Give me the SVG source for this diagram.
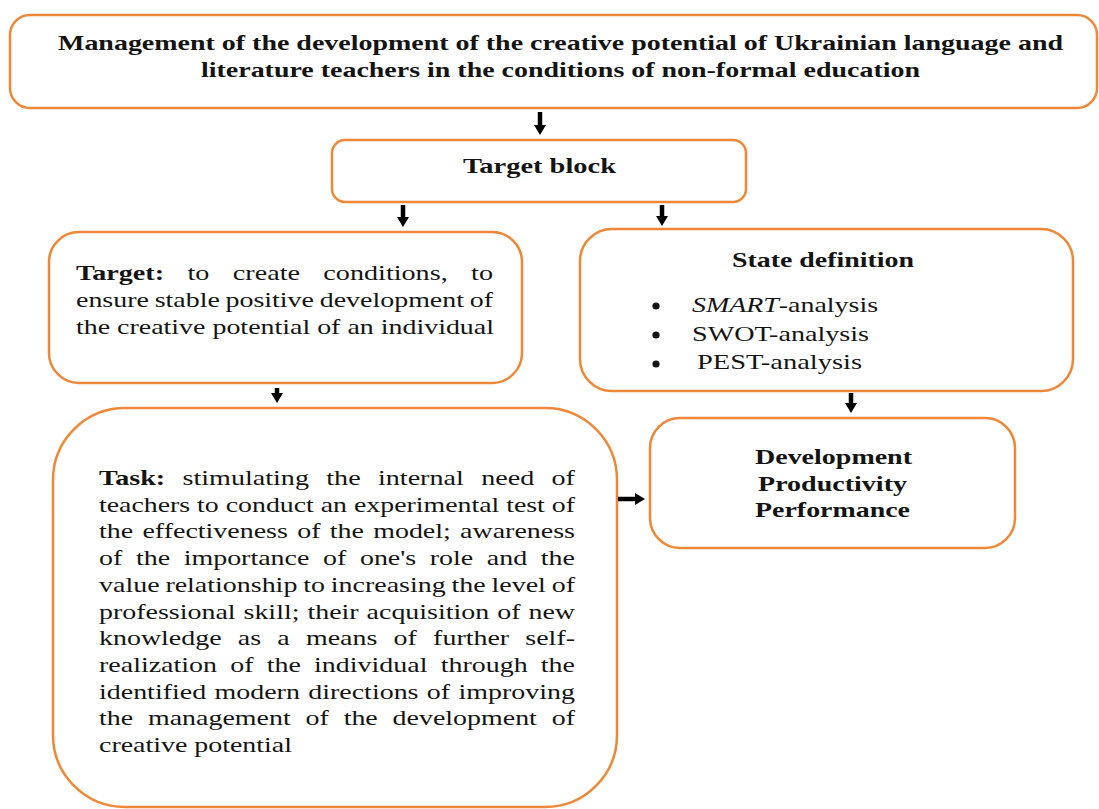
<svg xmlns="http://www.w3.org/2000/svg" width="1099" height="809" viewBox="0 0 1099 809">
<style>
.box{fill:#fff;stroke:#EE8838;stroke-width:2.5}
.t{font-family:"Liberation Serif","Times New Roman",serif;font-size:22px;fill:#141414}
.b{font-weight:bold}
.i{font-style:italic}
.arr{stroke:#000;stroke-width:4.5;fill:none}
.bul{fill:#141414}
</style>
<defs>
<marker id="ah" markerUnits="userSpaceOnUse" markerWidth="14" markerHeight="14" viewBox="0 0 14 14" refX="2" refY="7" orient="auto">
<path d="M0,1 L10,7 L0,13 Z" fill="#000"/>
</marker>
</defs>
<rect width="1099" height="809" fill="#fff"/>

<g id="node-main">
<rect class="box" x="10" y="15" width="1087" height="93" rx="20"/>
<text class="t b" x="58" y="50" textLength="1005" lengthAdjust="spacingAndGlyphs">Management of the development of the creative potential of Ukrainian language and</text>
<text class="t b" x="201" y="77" textLength="719" lengthAdjust="spacingAndGlyphs">literature teachers in the conditions of non-formal education</text>
</g>

<g id="node-target-block">
<rect class="box" x="332" y="140" width="414" height="62" rx="13"/>
<text class="t b" x="463" y="173" textLength="153" lengthAdjust="spacingAndGlyphs">Target block</text>
</g>

<g id="node-target">
<rect class="box" x="49" y="232" width="473" height="151" rx="30"/>
<text class="t" x="76" y="280" textLength="417" lengthAdjust="spacingAndGlyphs" style="word-spacing:12.8px"><tspan class="b">Target:</tspan> to create conditions, to</text>
<text class="t" x="76" y="307" textLength="417" lengthAdjust="spacingAndGlyphs" style="word-spacing:-1px">ensure stable positive development of</text>
<text class="t" x="76" y="334" textLength="418" lengthAdjust="spacingAndGlyphs">the creative potential of an individual</text>
</g>

<g id="node-state">
<rect class="box" x="580" y="229" width="493" height="162" rx="32"/>
<text class="t b" x="732" y="267" textLength="182" lengthAdjust="spacingAndGlyphs">State definition</text>
<circle class="bul" cx="656" cy="306" r="3.6"/>
<circle class="bul" cx="656" cy="335" r="3.6"/>
<circle class="bul" cx="656" cy="364" r="3.6"/>
<text class="t" x="692" y="312" textLength="186" lengthAdjust="spacingAndGlyphs"><tspan class="i">SMART</tspan>-analysis</text>
<text class="t" x="692" y="341" textLength="177" lengthAdjust="spacingAndGlyphs">SWOT-analysis</text>
<text class="t" x="697" y="369" textLength="165" lengthAdjust="spacingAndGlyphs">PEST-analysis</text>
</g>

<g id="node-task">
<rect class="box" x="53" y="408" width="564" height="399" rx="72"/>
<text class="t" x="99" y="485" textLength="476" lengthAdjust="spacingAndGlyphs" style="word-spacing:8.1px"><tspan class="b">Task:</tspan> stimulating the internal need of</text>
<text class="t" x="99" y="511.7" textLength="476" lengthAdjust="spacingAndGlyphs">teachers to conduct an experimental test of</text>
<text class="t" x="99" y="538.4" textLength="476" lengthAdjust="spacingAndGlyphs" style="word-spacing:1.8px">the effectiveness of the model; awareness</text>
<text class="t" x="99" y="565.1" textLength="476" lengthAdjust="spacingAndGlyphs" style="word-spacing:5.2px">of the importance of one's role and the</text>
<text class="t" x="99" y="591.8" textLength="476" lengthAdjust="spacingAndGlyphs" style="word-spacing:-0.9px">value relationship to increasing the level of</text>
<text class="t" x="99" y="618.5" textLength="476" lengthAdjust="spacingAndGlyphs" style="word-spacing:0.8px">professional skill; their acquisition of new</text>
<text class="t" x="99" y="645.2" textLength="476" lengthAdjust="spacingAndGlyphs" style="word-spacing:7.3px">knowledge as a means of further self-</text>
<text class="t" x="99" y="671.9" textLength="476" lengthAdjust="spacingAndGlyphs" style="word-spacing:4.9px">realization of the individual through the</text>
<text class="t" x="99" y="698.6" textLength="476" lengthAdjust="spacingAndGlyphs" style="word-spacing:1.1px">identified modern directions of improving</text>
<text class="t" x="99" y="725.3" textLength="476" lengthAdjust="spacingAndGlyphs" style="word-spacing:6.2px">the management of the development of</text>
<text class="t" x="99" y="752" textLength="193" lengthAdjust="spacingAndGlyphs">creative potential</text>
</g>

<g id="node-result">
<rect class="box" x="650" y="418" width="365" height="130" rx="30"/>
<text class="t b" x="755" y="464" textLength="157" lengthAdjust="spacingAndGlyphs">Development</text>
<text class="t b" x="758" y="491" textLength="149" lengthAdjust="spacingAndGlyphs">Productivity</text>
<text class="t b" x="755" y="517" textLength="155" lengthAdjust="spacingAndGlyphs">Performance</text>
</g>

<g id="connectors">
<line class="arr" x1="540" y1="112" x2="540" y2="127" marker-end="url(#ah)"/>
<line class="arr" x1="403" y1="205" x2="403" y2="219" marker-end="url(#ah)"/>
<line class="arr" x1="662" y1="205" x2="662" y2="218" marker-end="url(#ah)"/>
<line class="arr" x1="277" y1="388" x2="277" y2="395" marker-end="url(#ah)"/>
<line class="arr" x1="851" y1="393" x2="851" y2="405" marker-end="url(#ah)"/>
<line class="arr" x1="618" y1="499" x2="637" y2="499" marker-end="url(#ah)"/>
</g>
</svg>
